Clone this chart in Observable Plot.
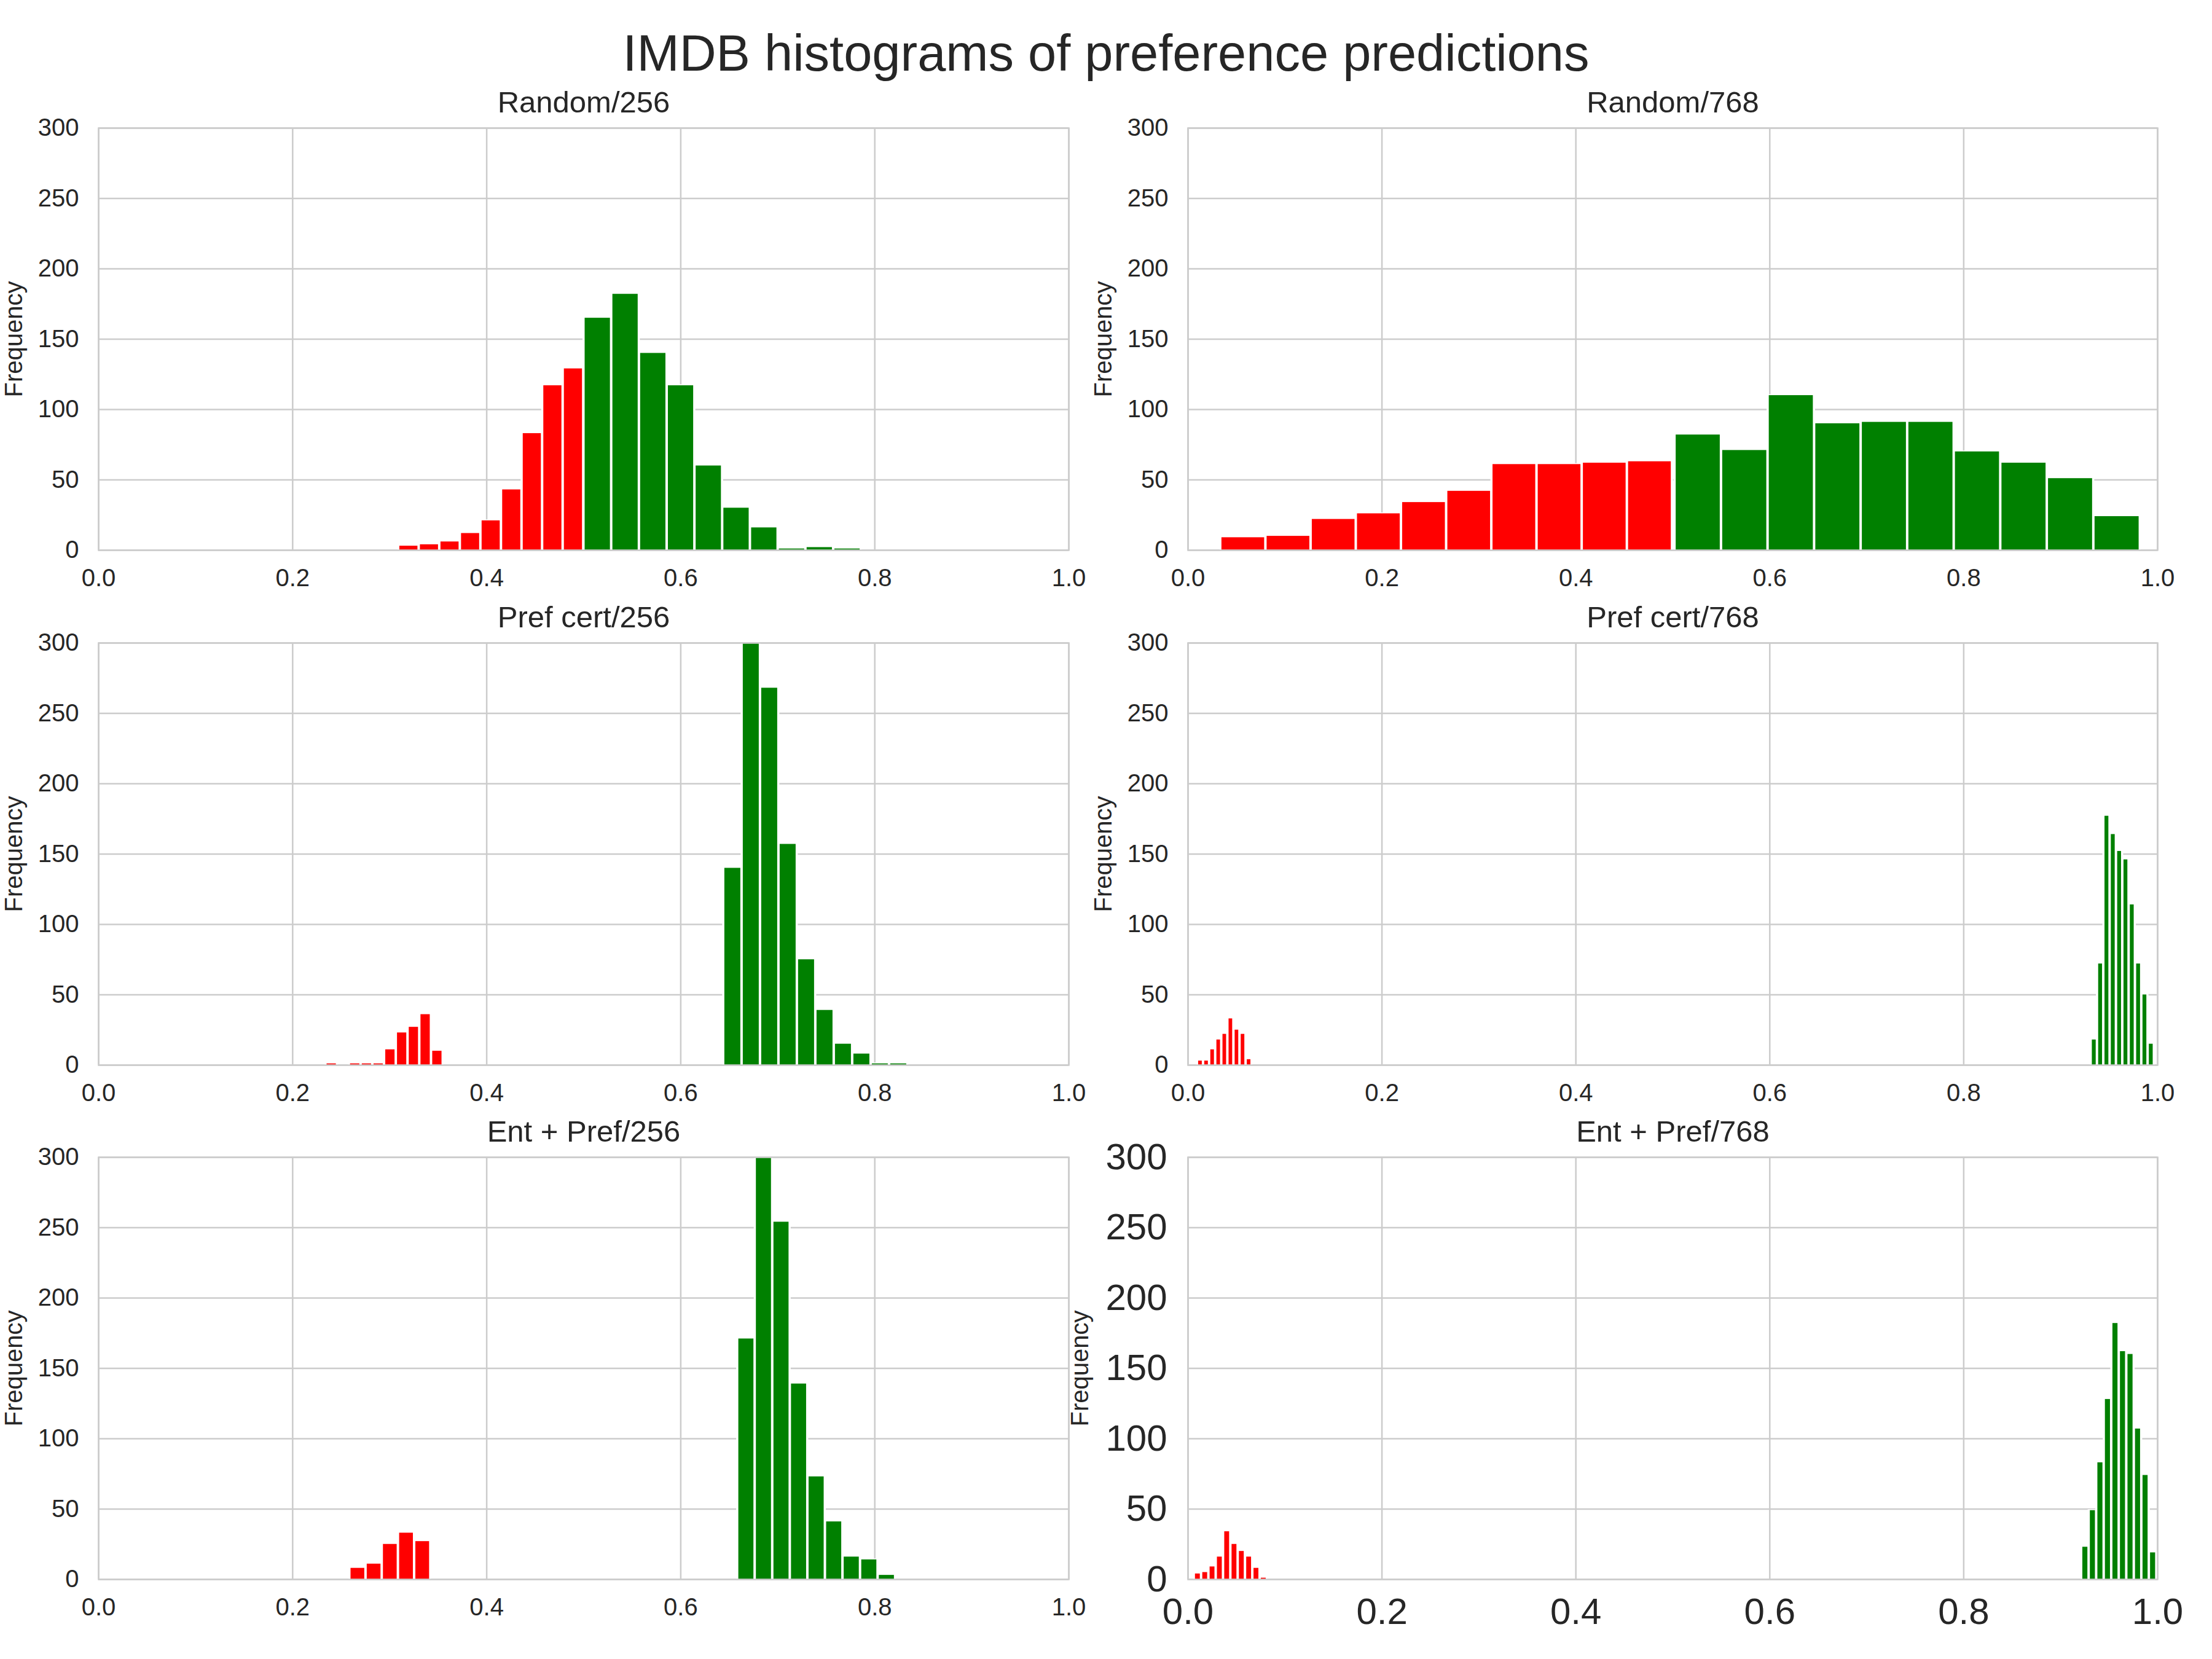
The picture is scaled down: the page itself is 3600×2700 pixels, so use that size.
<!DOCTYPE html>
<html><head><meta charset="utf-8">
<script src="https://cdn.jsdelivr.net/npm/d3@7"></script>
<script src="https://cdn.jsdelivr.net/npm/@observablehq/plot@0.6"></script>
<style>
body{margin:0;background:#fff;}
#root{position:relative;width:3600px;height:2700px;background:#fff;font-family:"Liberation Sans",Arial,sans-serif;color:#262626;}
#title{position:absolute;left:0;width:3600px;top:45px;text-align:center;font-size:83px;line-height:1;white-space:nowrap;}
.panel{position:absolute;}
</style></head><body>
<div id="root"><div id="title">IMDB histograms of preference predictions</div></div>
<script>
// ---- data ----
const panelTitles = ["Random/256", "Random/768", "Pref cert/256", "Pref cert/768", "Ent + Pref/256", "Ent + Pref/768"];
const xTicks = [0, 0.2, 0.4, 0.6, 0.8, 1.0];
const yTicks = [0, 50, 100, 150, 200, 250, 300];

// histogram bin start and bin width (prediction value) for the red (<0.5) and green (>=0.5) histograms
const redBinStart   = [0.309, 0.0335, 0.234, 0.0095, 0.2587, 0.0062];
const redBinWidth   = [0.0212, 0.0466, 0.0121, 0.00627, 0.0167, 0.00755];
const greenBinStart = [0.5, 0.502, 0.644, 0.9312, 0.6584, 0.9214];
const greenBinWidth = [0.0286, 0.048, 0.019, 0.00653, 0.0181, 0.00776];

// counts per bin
const random256Red   = [3, 4, 6, 12, 21, 43, 83, 117, 129];
const random256Green = [165, 182, 140, 117, 60, 30, 16, 1, 2, 1];
const random768Red   = [9, 10, 22, 26, 34, 42, 61, 61, 62, 63];
const random768Green = [82, 71, 110, 90, 91, 91, 70, 62, 51, 24];
const prefCert256Red   = [1, 0, 1, 1, 1, 11, 23, 27, 36, 10];
const prefCert256Green = [140, 317, 268, 157, 75, 39, 15, 8, 1, 1];
const prefCert768Red   = [3, 3, 11, 18, 22, 33, 25, 22, 4];
const prefCert768Green = [18, 72, 177, 164, 152, 146, 114, 72, 50, 15];
const entPref256Red   = [8, 11, 25, 33, 27];
const entPref256Green = [171, 317, 254, 139, 73, 41, 16, 14, 3];
const entPref768Red   = [4, 5, 9, 16, 34, 25, 20, 16, 8, 1];
const entPref768Green = [23, 49, 83, 128, 182, 162, 160, 107, 74, 19];

const redCounts = [random256Red, random768Red, prefCert256Red, prefCert768Red, entPref256Red, entPref768Red];
const greenCounts = [random256Green, random768Green, prefCert256Green, prefCert768Green, entPref256Green, entPref768Green];

// ---- drawing ----
function binsOf(start, width, counts) {
  return counts.map((count, k) => ({x1: start + k * width, x2: start + (k + 1) * width, count}))
               .filter(d => d.count > 0);
}

const root = document.getElementById("root");
const rowTops = [208, 1046, 1883];
const grid = "#cccccc";
const ink = "#262626";

for (let i = 0; i < 6; i++) {
  const r = Math.floor(i / 2), c = i % 2;
  const frameLeft = c ? 1933 : 160, frameRight = c ? 3511 : 1739;
  const svgLeft = c ? 1700 : 0, svgWidth = c ? 1900 : 1800;
  const mt = 71, mb = r === 2 ? 110 : 80, ph = 687;
  const big = i === 5;
  const tickFont = big ? 60 : 40;
  const red = binsOf(redBinStart[i], redBinWidth[i], redCounts[i]);
  const green = binsOf(greenBinStart[i], greenBinWidth[i], greenCounts[i]);
  const all = red.concat(green);
  const plot = Plot.plot({
    width: svgWidth,
    height: mt + ph + mb,
    marginLeft: frameLeft - svgLeft,
    marginRight: svgLeft + svgWidth - frameRight,
    marginTop: mt,
    marginBottom: mb,
    style: {background: "transparent", overflow: "visible", fontFamily: "Liberation Sans, Arial, sans-serif", color: ink},
    x: {domain: [0, 1]},
    y: {domain: [0, 300]},
    marks: [
      Plot.gridX(xTicks, {stroke: grid, strokeOpacity: 1, strokeWidth: 2.5}),
      Plot.gridY(yTicks, {stroke: grid, strokeOpacity: 1, strokeWidth: 2.5}),
      // white halo round the bars (bar edges)
      Plot.rectY(all, {x1: "x1", x2: "x2", y: "count", fill: "white", stroke: "white", strokeWidth: 3, clip: true}),
      Plot.rectY(red, {x1: "x1", x2: "x2", y: "count", fill: "#ff0000", insetLeft: 2, insetRight: 2, clip: true}),
      Plot.rectY(green, {x1: "x1", x2: "x2", y: "count", fill: "#008000", insetLeft: 2, insetRight: 2, clip: true}),
      Plot.frame({stroke: grid, strokeWidth: 2.5}),
      Plot.axisX(xTicks, {tickSize: 0, tickPadding: 30, fontSize: tickFont, tickFormat: d3.format(".1f"), label: null, fill: ink}),
      Plot.axisY(yTicks, {tickSize: 0, tickPadding: big ? 34 : 32, fontSize: tickFont, tickFormat: d => String(d), label: null, fill: ink}),
      Plot.text(["Frequency"], {text: d => d, frameAnchor: "left", rotate: -90, dx: big ? -175 : -137, fontSize: 40, lineAnchor: "middle", textAnchor: "middle", fill: ink}),
      Plot.text([panelTitles[i]], {text: d => d, frameAnchor: "top", dy: -26, lineAnchor: "bottom", fontSize: 49, fill: ink})
    ]
  });
  const wrap = document.createElement("div");
  wrap.className = "panel";
  wrap.style.left = svgLeft + "px";
  wrap.style.top = (rowTops[r] - mt) + "px";
  wrap.appendChild(plot);
  root.appendChild(wrap);
}
</script></body></html>
